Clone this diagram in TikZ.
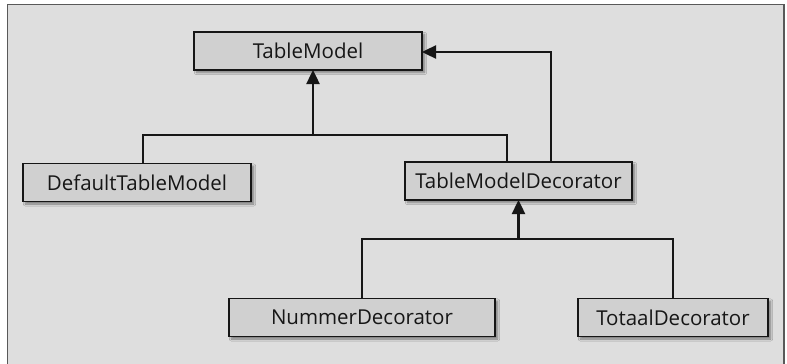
\documentclass[tikz,border=0pt]{standalone}
\usepackage{fontspec}
\setmainfont{Open Sans}
\usetikzlibrary{arrows.meta,shadows.blur,calc}
\definecolor{panel}{HTML}{DEDEDE}
\definecolor{boxfill}{HTML}{D0D0D0}
\definecolor{ink}{HTML}{161616}
\tikzset{
  classbox/.style={draw=ink, line width=1.8pt, fill=boxfill, inner sep=0pt, outer sep=0pt,
    minimum height=38pt, font=\fontsize{20.5}{24}\selectfont, text=ink,
    blur shadow={shadow xshift=2.5pt, shadow yshift=-2.5pt, shadow blur steps=6, shadow opacity=45}},
  link/.style={draw=ink, line width=2.4pt},
  inherit/.style={link, -{Triangle[width=13pt,length=14pt]}},
}
\begin{document}
\begin{tikzpicture}[x=1pt,y=-1pt]
  \useasboundingbox (0,0) rectangle (787,364);
  % panel with open bottom edge
  \fill[panel] (7.5,4.5) rectangle (784,364);
  \draw[line width=1.6pt, draw=black!65] (7.5,364) -- (7.5,4.5) -- (784,4.5) -- (784,364);

  % classes
  \node[classbox, minimum width=228pt] (tm)  at (308,51)   {TableModel};
  \node[classbox, minimum width=228pt] (dtm) at (137,182.5) {DefaultTableModel};
  \node[classbox, minimum width=227pt] (tmd) at (518.5,181) {TableModelDecorator};
  \node[classbox, minimum width=266pt] (nd)  at (362,317.5) {NummerDecorator};
  \node[classbox, minimum width=190pt] (td)  at (673,317.5) {TotaalDecorator};

  % junction points of the connector trees
  \coordinate (busA) at (313,135);
  \coordinate (busB) at (518.5,239);
  \coordinate (upA)  at (551,52);

  % TableModel subtypes
  \draw[link] ($(dtm.north)+(6,0)$) |- (busA) -| ($(tmd.north)+(-11.5,0)$);
  \draw[inherit] (busA) -- (tm.south -| busA);
  \draw[inherit] (tmd.north -| upA) |- (tm.east |- upA);

  % decorator subtypes
  \draw[link] (nd.north) |- (busB) -| (td.north);
  \draw[inherit] (busB) -- (tmd.south);
\end{tikzpicture}
\end{document}
